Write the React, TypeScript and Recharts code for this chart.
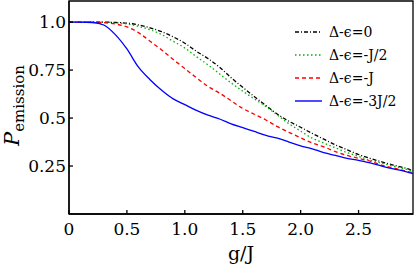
import { LineChart, Line, XAxis, YAxis, ReferenceArea, Legend } from "recharts";

// g/J sample points shared by all curves
const gValues = [0, 0.1, 0.2, 0.3, 0.4, 0.5, 0.6, 0.7, 0.8, 0.9, 1.0, 1.1, 1.2, 1.3, 1.4, 1.5, 1.6, 1.7, 1.8, 1.9, 2.0, 2.1, 2.2, 2.3, 2.4, 2.5, 2.6, 2.7, 2.8, 2.9, 2.97];

const detune0 = [1, 1, 1, 1, 0.998, 0.995, 0.985, 0.97, 0.95, 0.923, 0.89, 0.848, 0.81, 0.765, 0.71, 0.66, 0.612, 0.565, 0.52, 0.483, 0.452, 0.42, 0.39, 0.36, 0.335, 0.31, 0.29, 0.272, 0.255, 0.24, 0.225];
const detuneHalf = [1, 1, 1, 1, 0.997, 0.99, 0.978, 0.96, 0.935, 0.9, 0.865, 0.82, 0.777, 0.73, 0.683, 0.64, 0.6, 0.56, 0.515, 0.47, 0.432, 0.395, 0.37, 0.345, 0.32, 0.3, 0.28, 0.265, 0.25, 0.235, 0.225];
const detuneOne = [1, 1, 1, 0.997, 0.99, 0.975, 0.945, 0.9, 0.855, 0.805, 0.758, 0.71, 0.665, 0.63, 0.59, 0.55, 0.52, 0.49, 0.455, 0.425, 0.397, 0.37, 0.35, 0.325, 0.305, 0.29, 0.275, 0.255, 0.24, 0.225, 0.215];
const detuneThreeHalf = [1, 1, 0.998, 0.985, 0.935, 0.86, 0.765, 0.7, 0.645, 0.6, 0.57, 0.54, 0.515, 0.495, 0.47, 0.45, 0.43, 0.41, 0.395, 0.375, 0.355, 0.34, 0.32, 0.305, 0.29, 0.28, 0.266, 0.25, 0.235, 0.222, 0.21];

const xTicks = [0, 0.5, 1, 1.5, 2, 2.5];
const xTickLabels = ["0", "0.5", "1.0", "1.5", "2.0", "2.5"];
const yTicks = [0.25, 0.5, 0.75, 1];
const yTickLabels = ["0.25", "0.5", "0.75", "1.0"];

const series = [
  { key: "d0", label: "Δ-ϵ=0", color: "#000000", dash: "4 2 1 2" },
  { key: "dHalf", label: "Δ-ϵ=-J/2", color: "#00b400", dash: "1.5 2.5" },
  { key: "dOne", label: "Δ-ϵ=-J", color: "#ff0000", dash: "4 3" },
  { key: "dThreeHalf", label: "Δ-ϵ=-3J/2", color: "#0000ff", dash: undefined },
];

const rows = gValues.map((g, i) => ({
  g,
  d0: detune0[i],
  dHalf: detuneHalf[i],
  dOne: detuneOne[i],
  dThreeHalf: detuneThreeHalf[i],
}));

const FONT = "DejaVu Serif";

function LegendBox() {
  return (
    <div style={{ fontFamily: FONT, fontSize: 14, color: "#000" }}>
      {series.map((s) => (
        <div key={s.key} style={{ display: "flex", alignItems: "center", height: 23 }}>
          <svg width={27} height={6} style={{ marginRight: 7 }}>
            <line x1={0} y1={3} x2={27} y2={3} stroke={s.color} strokeWidth={1.4} strokeDasharray={s.dash} />
          </svg>
          <span>{s.label}</span>
        </div>
      ))}
    </div>
  );
}

function YLabel() {
  return (
    <text transform="translate(19, 146) rotate(-90)" fontFamily={FONT} fill="#000">
      <tspan fontSize={21} fontStyle="italic">P</tspan>
      <tspan fontSize={15} dy={5}>emission</tspan>
    </text>
  );
}

export default function App() {
  return (
    <div style={{ position: "fixed", left: 0, top: 0, background: "#fff" }}>
      <LineChart width={415} height={269} data={rows} margin={{ top: 1, right: 2, bottom: 25, left: 9 }}>
        <XAxis
          dataKey="g"
          type="number"
          domain={[0, 2.97]}
          ticks={xTicks}
          tickFormatter={(v) => xTickLabels[xTicks.indexOf(v)]}
          tickSize={-4}
          tickMargin={13}
          height={30}
          stroke="#000"
          strokeWidth={1.3}
          tick={{ fill: "#000", fontSize: 17, fontFamily: FONT }}
          label={{ value: "g/J", position: "insideBottom", offset: -16, fontSize: 19, fontFamily: FONT, fill: "#000" }}
        />
        <YAxis
          type="number"
          domain={[0, 1.11]}
          ticks={yTicks}
          tickFormatter={(v) => yTickLabels[yTicks.indexOf(v)]}
          tickSize={-4}
          tickMargin={7}
          width={60}
          stroke="#000"
          strokeWidth={1.3}
          tick={{ fill: "#000", fontSize: 17, fontFamily: FONT }}
          label={{ content: YLabel }}
        />
        <ReferenceArea x1={0} x2={2.97} y1={0} y2={1.11} fill="none" stroke="#000" strokeWidth={1.3} />
        {series.map((s) => (
          <Line
            key={s.key}
            dataKey={s.key}
            type="monotone"
            stroke={s.color}
            strokeWidth={1.3}
            strokeDasharray={s.dash}
            dot={false}
            isAnimationActive={false}
          />
        ))}
        <Legend
          layout="vertical"
          align="center"
          verticalAlign="middle"
          content={LegendBox}
          wrapperStyle={{ left: 295, top: 20, width: 120, height: 95 }}
        />
      </LineChart>
    </div>
  );
}
